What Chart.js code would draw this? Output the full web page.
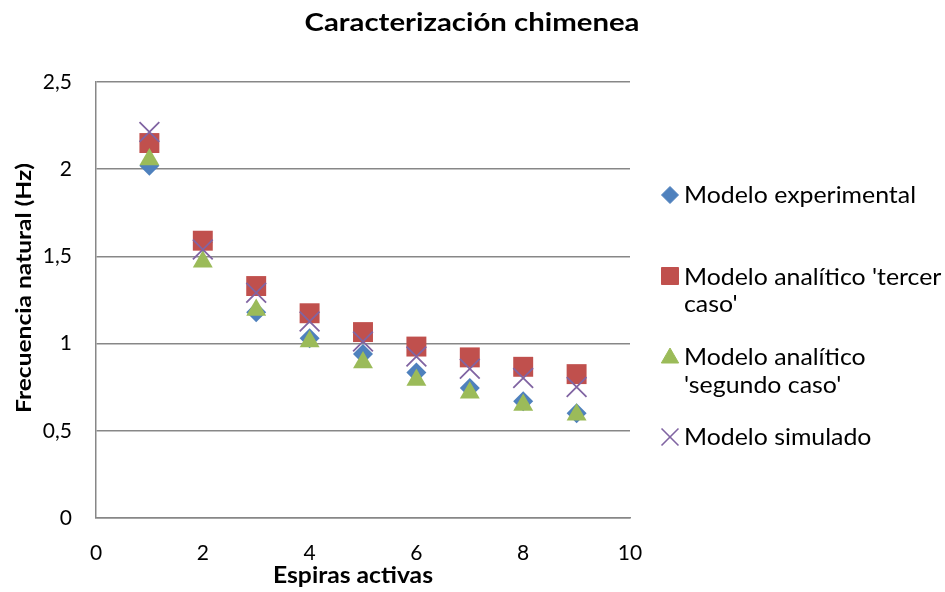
<!DOCTYPE html>
<html>
<head>
<meta charset="utf-8">
<script src="https://cdn.jsdelivr.net/npm/chart.js@4/dist/chart.umd.min.js"></script>
<style>
  body { margin: 0; background: #fff; }
</style>
</head>
<body>
<canvas id="chimenea" width="945" height="592"></canvas>
<script>
// Espiras activas vs frecuencia natural (Hz)
const espiras = [1, 2, 3, 4, 5, 6, 7, 8, 9];
const experimental = [2.02, 1.58, 1.18, 1.03, 0.94, 0.835, 0.745, 0.67, 0.60];
const tercerCaso = [2.15, 1.59, 1.33, 1.174, 1.066, 0.983, 0.921, 0.867, 0.825];
const segundoCaso = [2.055, 1.47, 1.193, 1.012, 0.892, 0.792, 0.718, 0.648, 0.592];
const simulado = [2.213, 1.54, 1.292, 1.127, 1.012, 0.926, 0.856, 0.803, 0.751];

const yTicks = [0, 0.5, 1, 1.5, 2, 2.5];
const xTicks = [0, 2, 4, 6, 8, 10];

const TITLE = 'Caracterización chimenea';
const X_TITLE = 'Espiras activas';
const Y_TITLE = 'Frecuencia natural (Hz)';

const FONT = "Lato, 'Open Sans', sans-serif";
const GRID = '#878787';

const pts = vals => espiras.map((x, i) => ({ x: x, y: vals[i] }));

const series = [
    { label: 'Modelo experimental', lines: ['Modelo experimental'], data: experimental,
      color: '#4F81BD', style: 'rectRot', radius: 10, legendRadius: 8.5, order: 4 },
    { label: "Modelo analítico 'tercer caso'", lines: ["Modelo analítico 'tercer", "caso'"], data: tercerCaso,
      color: '#C0504D', style: 'rect', radius: 14.1, legendRadius: 12, order: 3 },
    { label: "Modelo analítico 'segundo caso'", lines: ['Modelo analítico', "'segundo caso'"], data: segundoCaso,
      color: '#9BBB59', style: 'triangle', radius: 11.5, legendRadius: 10, order: 2 },
    { label: 'Modelo simulado', lines: ['Modelo simulado'], data: simulado,
      color: '#8064A2', style: 'crossRot', radius: 14, legendRadius: 12, order: 1 }
];

// draws text squeezed/stretched along its run so it takes a given length
function fitText(ctx, text, x, y, font, length, align, angle) {
    ctx.font = font;
    const sx = length / ctx.measureText(text).width;
    ctx.save();
    ctx.translate(x, y);
    ctx.rotate(angle || 0);
    ctx.scale(sx, 1);
    ctx.font = font;
    ctx.textAlign = align;
    ctx.textBaseline = 'alphabetic';
    ctx.fillText(text, 0, 0);
    ctx.restore();
}

// marker centre y and text baselines of each legend entry
const legendMarks = [195, 276, 358, 437];
const legendBase = [[203], [285, 312], [365, 393], [445]];

const annotations = {
    id: 'annotations',
    afterDraw(chart) {
        const ctx = chart.ctx;
        ctx.save();
        ctx.fillStyle = '#000';

        fitText(ctx, TITLE, 472, 31, 'bold 25px ' + FONT, 335, 'center');
        fitText(ctx, X_TITLE, 353, 583, 'bold 22px ' + FONT, 160, 'center');
        fitText(ctx, Y_TITLE, 31, 288, 'bold 21px ' + FONT, 250, 'center', -Math.PI / 2);

        // legend on the right, wrapped like the spreadsheet one
        const legendFont = '23px ' + FONT;
        ctx.font = legendFont;
        const sx = 232 / ctx.measureText(series[0].lines[0]).width;
        series.forEach((s, i) => {
            ctx.fillStyle = s.color;
            ctx.strokeStyle = s.color;
            ctx.lineWidth = s.style === 'crossRot' ? 1.6 : 1;
            Chart.helpers.drawPoint(ctx, { pointStyle: s.style, radius: s.legendRadius, borderWidth: ctx.lineWidth }, 670, legendMarks[i]);
            ctx.fillStyle = '#000';
            s.lines.forEach((t, j) => {
                ctx.font = legendFont;
                fitText(ctx, t, 684, legendBase[i][j], legendFont, ctx.measureText(t).width * sx, 'left');
            });
        });
        ctx.restore();
    }
};

new Chart(document.getElementById('chimenea'), {
    type: 'scatter',
    data: {
        datasets: series.map(s => ({
            label: s.label,
            data: pts(s.data),
            order: s.order,
            pointStyle: s.style,
            pointRadius: s.radius,
            pointHoverRadius: s.radius,
            backgroundColor: s.color,
            borderColor: s.color,
            borderWidth: s.style === 'crossRot' ? 1.8 : 0
        }))
    },
    options: {
        responsive: false,
        animation: false,
        layout: { padding: { left: 0, right: 315, top: 82, bottom: 0 } },
        plugins: {
            legend: { display: false },
            tooltip: { enabled: false }
        },
        scales: {
            x: {
                type: 'linear',
                min: 0, max: 10,
                afterFit: s => { s.height = 74; },
                afterBuildTicks: s => { s.ticks = xTicks.map(v => ({ value: v })); },
                grid: { display: false, drawTicks: false },
                border: { display: true, color: GRID, width: 1.5 },
                ticks: { color: '#000', padding: 23, font: { family: FONT, size: 21 } }
            },
            y: {
                min: 0, max: 2.5,
                afterFit: s => { s.width = 96; },
                afterBuildTicks: s => { s.ticks = yTicks.map(v => ({ value: v })); },
                grid: { color: GRID, lineWidth: 1.5, drawTicks: false },
                border: { display: true, color: GRID, width: 1.5 },
                ticks: {
                    color: '#000', padding: 24, font: { family: FONT, size: 21 },
                    callback: v => String(v).replace('.', ',')
                }
            }
        }
    },
    plugins: [annotations]
});
</script>
</body>
</html>
